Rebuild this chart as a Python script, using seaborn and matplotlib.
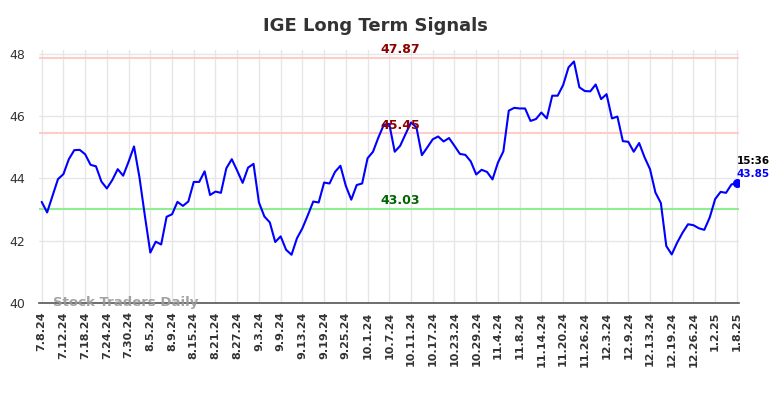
import numpy as np
import pandas as pd
import seaborn as sns
import matplotlib.pyplot as plt

# closing prices, one per trading day from 7.8.24 to 1.8.25
prices = [43.25, 42.91, 43.44, 43.98, 44.14, 44.62, 44.91, 44.92, 44.78, 44.44,
          44.39, 43.90, 43.68, 43.95, 44.30, 44.09, 44.54, 45.03, 44.04, 42.80,
          41.62, 41.97, 41.88, 42.77, 42.85, 43.25, 43.12, 43.26, 43.89, 43.89,
          44.23, 43.47, 43.58, 43.54, 44.33, 44.62, 44.25, 43.86, 44.35, 44.47,
          43.23, 42.78, 42.59, 41.96, 42.14, 41.71, 41.55, 42.08, 42.40, 42.82,
          43.26, 43.23, 43.87, 43.84, 44.21, 44.41, 43.76, 43.32, 43.79, 43.84,
          44.65, 44.86, 45.32, 45.73, 45.75, 44.86, 45.05, 45.43, 45.80, 45.64,
          44.75, 45.00, 45.26, 45.35, 45.19, 45.30, 45.05, 44.79, 44.76, 44.55,
          44.13, 44.28, 44.21, 43.97, 44.51, 44.87, 46.18, 46.27, 46.25, 46.25,
          45.85, 45.91, 46.12, 45.93, 46.66, 46.66, 47.00, 47.57, 47.76, 46.93,
          46.81, 46.80, 47.02, 46.55, 46.71, 45.93, 45.99, 45.20, 45.18, 44.86,
          45.14, 44.68, 44.30, 43.55, 43.21, 41.83, 41.56, 41.94, 42.26, 42.53,
          42.50, 42.40, 42.35, 42.75, 43.34, 43.57, 43.54, 43.81, 43.85]

tick_labels = ["7.8.24", "7.12.24", "7.18.24", "7.24.24", "7.30.24", "8.5.24", "8.9.24",
               "8.15.24", "8.21.24", "8.27.24", "9.3.24", "9.9.24", "9.13.24", "9.19.24",
               "9.25.24", "10.1.24", "10.7.24", "10.11.24", "10.17.24", "10.23.24",
               "10.29.24", "11.4.24", "11.8.24", "11.14.24", "11.20.24", "11.26.24",
               "12.3.24", "12.9.24", "12.13.24", "12.19.24", "12.26.24", "1.2.25", "1.8.25"]

resistance_hi = 47.87
resistance = 45.45
support = 43.03
last_time = "15:36"

df = pd.DataFrame({"day": np.arange(len(prices)), "price": prices})

sns.set_theme(style="whitegrid")
fig = plt.figure(figsize=(7.84, 3.98), dpi=100)
ax = fig.add_axes([0.0497, 0.2387, 0.893, 0.635])

ax.axhline(resistance_hi, color="#ffcccc", lw=1.5, zorder=1)
ax.axhline(resistance, color="#ffcccc", lw=1.5, zorder=1)
ax.axhline(support, color="#90ee90", lw=1.5, zorder=1)

sns.lineplot(data=df, x="day", y="price", color="blue", lw=1.5, ax=ax, zorder=3)
last = df.iloc[-1]
ax.scatter([last["day"]], [last["price"]], color="blue", s=30, zorder=4)

mid = 66
ax.text(mid, resistance_hi + 0.05, f"{resistance_hi:.2f}", color="#8b0000",
        fontsize=9, fontweight="bold", ha="center", va="bottom")
ax.text(mid, resistance + 0.05, f"{resistance:.2f}", color="#8b0000",
        fontsize=9, fontweight="bold", ha="center", va="bottom")
ax.text(mid, support + 0.05, f"{support:.2f}", color="#006400",
        fontsize=9, fontweight="bold", ha="center", va="bottom")

ax.text(last["day"], last["price"] + 0.55, last_time, color="black",
        fontsize=7.5, fontweight="bold", ha="left", va="bottom")
ax.text(last["day"], last["price"] + 0.12, f"{last['price']:.2f}", color="blue",
        fontsize=7.5, fontweight="bold", ha="left", va="bottom")

ax.text(0.02, 0.0, "Stock Traders Daily", transform=ax.transAxes, color="#999999",
        fontsize=9.5, fontweight="bold", ha="left", va="center", alpha=0.9)

ax.set_xlim(-0.5, len(prices) - 0.6)
ax.set_ylim(40, 48.12)
ax.set_xticks(np.arange(0, len(prices), 4))
ax.set_xticklabels(tick_labels, rotation=90, fontsize=8, fontweight="bold", color="#333333")
ax.set_yticks([40, 42, 44, 46, 48])
ax.tick_params(axis="y", labelsize=9, colors="#333333", length=0, pad=10)
ax.tick_params(axis="x", length=0, pad=6)
ax.set_xlabel("")
ax.set_ylabel("")
ax.grid(color="#e6e6e6", lw=1)
for s in ["left", "right", "top"]:
    ax.spines[s].set_visible(False)
ax.spines["bottom"].set_color("#555555")
ax.spines["bottom"].set_linewidth(1.2)

fig.text(375 / 784, 1 - 26 / 398, "IGE Long Term Signals", ha="center", va="center",
         fontsize=13, fontweight="bold", color="#333333")

fig.savefig("out.png", dpi=100)
